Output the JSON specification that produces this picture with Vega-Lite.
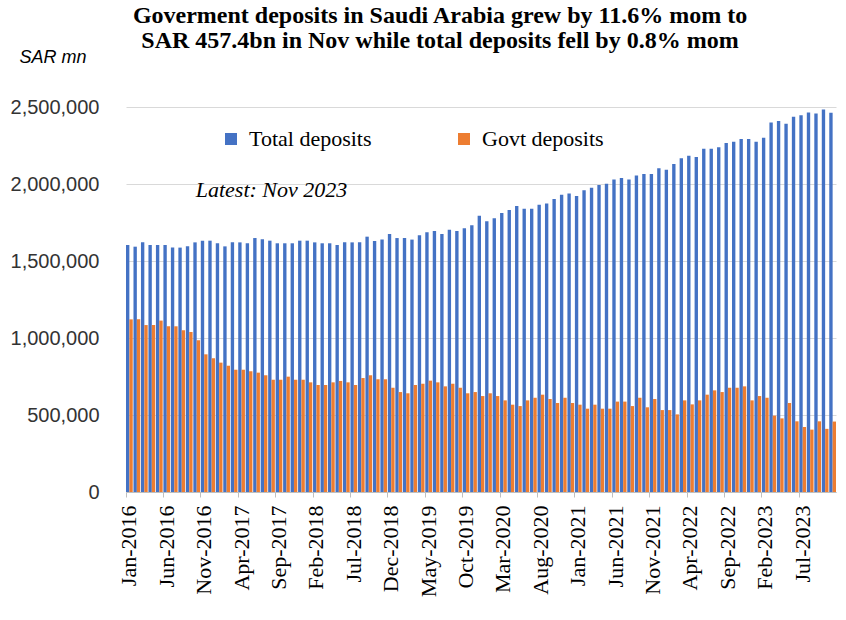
{
  "$schema": "https://vega.github.io/schema/vega-lite/v6.json",
  "width": 710,
  "height": 385,
  "autosize": "none",
  "padding": {"left": 126, "top": 107, "right": 10, "bottom": 128},
  "background": "white",
  "config": {"view": {"stroke": null}},
  "title": {
    "text": ["Goverment deposits in Saudi Arabia grew by 11.6% mom to", "SAR 457.4bn in Nov while total deposits fell by 0.8% mom"],
    "font": "Liberation Serif", "fontSize": 24, "fontWeight": "bold", "color": "#000000",
    "anchor": "middle", "dx": -41, "offset": -5, "lineHeight": 25
  },
  "data": {"values": [
    {"m": "Jan-2016", "Total deposits": 1604000, "Govt deposits": 1121000},
    {"m": "Feb-2016", "Total deposits": 1593000, "Govt deposits": 1121000},
    {"m": "Mar-2016", "Total deposits": 1621000, "Govt deposits": 1084000},
    {"m": "Apr-2016", "Total deposits": 1604000, "Govt deposits": 1084000},
    {"m": "May-2016", "Total deposits": 1604000, "Govt deposits": 1113000},
    {"m": "Jun-2016", "Total deposits": 1604000, "Govt deposits": 1076000},
    {"m": "Jul-2016", "Total deposits": 1587000, "Govt deposits": 1076000},
    {"m": "Aug-2016", "Total deposits": 1587000, "Govt deposits": 1050000},
    {"m": "Sep-2016", "Total deposits": 1595000, "Govt deposits": 1039000},
    {"m": "Oct-2016", "Total deposits": 1621000, "Govt deposits": 985000},
    {"m": "Nov-2016", "Total deposits": 1632000, "Govt deposits": 894000},
    {"m": "Dec-2016", "Total deposits": 1632000, "Govt deposits": 868000},
    {"m": "Jan-2017", "Total deposits": 1615000, "Govt deposits": 840000},
    {"m": "Feb-2017", "Total deposits": 1595000, "Govt deposits": 820000},
    {"m": "Mar-2017", "Total deposits": 1621000, "Govt deposits": 794000},
    {"m": "Apr-2017", "Total deposits": 1621000, "Govt deposits": 794000},
    {"m": "May-2017", "Total deposits": 1615000, "Govt deposits": 784000},
    {"m": "Jun-2017", "Total deposits": 1649000, "Govt deposits": 775000},
    {"m": "Jul-2017", "Total deposits": 1641000, "Govt deposits": 758000},
    {"m": "Aug-2017", "Total deposits": 1632000, "Govt deposits": 729000},
    {"m": "Sep-2017", "Total deposits": 1615000, "Govt deposits": 729000},
    {"m": "Oct-2017", "Total deposits": 1615000, "Govt deposits": 749000},
    {"m": "Nov-2017", "Total deposits": 1615000, "Govt deposits": 729000},
    {"m": "Dec-2017", "Total deposits": 1632000, "Govt deposits": 729000},
    {"m": "Jan-2018", "Total deposits": 1632000, "Govt deposits": 712000},
    {"m": "Feb-2018", "Total deposits": 1621000, "Govt deposits": 695000},
    {"m": "Mar-2018", "Total deposits": 1615000, "Govt deposits": 695000},
    {"m": "Apr-2018", "Total deposits": 1615000, "Govt deposits": 712000},
    {"m": "May-2018", "Total deposits": 1604000, "Govt deposits": 721000},
    {"m": "Jun-2018", "Total deposits": 1621000, "Govt deposits": 712000},
    {"m": "Jul-2018", "Total deposits": 1621000, "Govt deposits": 695000},
    {"m": "Aug-2018", "Total deposits": 1621000, "Govt deposits": 740000},
    {"m": "Sep-2018", "Total deposits": 1658000, "Govt deposits": 758000},
    {"m": "Oct-2018", "Total deposits": 1630000, "Govt deposits": 732000},
    {"m": "Nov-2018", "Total deposits": 1639000, "Govt deposits": 732000},
    {"m": "Dec-2018", "Total deposits": 1675000, "Govt deposits": 677000},
    {"m": "Jan-2019", "Total deposits": 1649000, "Govt deposits": 649000},
    {"m": "Feb-2019", "Total deposits": 1649000, "Govt deposits": 641000},
    {"m": "Mar-2019", "Total deposits": 1639000, "Govt deposits": 695000},
    {"m": "Apr-2019", "Total deposits": 1667000, "Govt deposits": 703000},
    {"m": "May-2019", "Total deposits": 1686000, "Govt deposits": 723000},
    {"m": "Jun-2019", "Total deposits": 1695000, "Govt deposits": 712000},
    {"m": "Jul-2019", "Total deposits": 1675000, "Govt deposits": 686000},
    {"m": "Aug-2019", "Total deposits": 1703000, "Govt deposits": 703000},
    {"m": "Sep-2019", "Total deposits": 1695000, "Govt deposits": 677000},
    {"m": "Oct-2019", "Total deposits": 1712000, "Govt deposits": 641000},
    {"m": "Nov-2019", "Total deposits": 1732000, "Govt deposits": 649000},
    {"m": "Dec-2019", "Total deposits": 1794000, "Govt deposits": 623000},
    {"m": "Jan-2020", "Total deposits": 1758000, "Govt deposits": 641000},
    {"m": "Feb-2020", "Total deposits": 1777000, "Govt deposits": 623000},
    {"m": "Mar-2020", "Total deposits": 1812000, "Govt deposits": 595000},
    {"m": "Apr-2020", "Total deposits": 1831000, "Govt deposits": 567000},
    {"m": "May-2020", "Total deposits": 1857000, "Govt deposits": 558000},
    {"m": "Jun-2020", "Total deposits": 1840000, "Govt deposits": 595000},
    {"m": "Jul-2020", "Total deposits": 1840000, "Govt deposits": 612000},
    {"m": "Aug-2020", "Total deposits": 1866000, "Govt deposits": 632000},
    {"m": "Sep-2020", "Total deposits": 1874000, "Govt deposits": 604000},
    {"m": "Oct-2020", "Total deposits": 1903000, "Govt deposits": 578000},
    {"m": "Nov-2020", "Total deposits": 1931000, "Govt deposits": 612000},
    {"m": "Dec-2020", "Total deposits": 1939000, "Govt deposits": 578000},
    {"m": "Jan-2021", "Total deposits": 1922000, "Govt deposits": 567000},
    {"m": "Feb-2021", "Total deposits": 1959000, "Govt deposits": 541000},
    {"m": "Mar-2021", "Total deposits": 1976000, "Govt deposits": 567000},
    {"m": "Apr-2021", "Total deposits": 1994000, "Govt deposits": 541000},
    {"m": "May-2021", "Total deposits": 2002000, "Govt deposits": 541000},
    {"m": "Jun-2021", "Total deposits": 2030000, "Govt deposits": 587000},
    {"m": "Jul-2021", "Total deposits": 2039000, "Govt deposits": 587000},
    {"m": "Aug-2021", "Total deposits": 2030000, "Govt deposits": 558000},
    {"m": "Sep-2021", "Total deposits": 2056000, "Govt deposits": 612000},
    {"m": "Oct-2021", "Total deposits": 2065000, "Govt deposits": 550000},
    {"m": "Nov-2021", "Total deposits": 2065000, "Govt deposits": 604000},
    {"m": "Dec-2021", "Total deposits": 2102000, "Govt deposits": 532000},
    {"m": "Jan-2022", "Total deposits": 2093000, "Govt deposits": 532000},
    {"m": "Feb-2022", "Total deposits": 2130000, "Govt deposits": 504000},
    {"m": "Mar-2022", "Total deposits": 2167000, "Govt deposits": 595000},
    {"m": "Apr-2022", "Total deposits": 2184000, "Govt deposits": 569000},
    {"m": "May-2022", "Total deposits": 2175000, "Govt deposits": 595000},
    {"m": "Jun-2022", "Total deposits": 2229000, "Govt deposits": 632000},
    {"m": "Jul-2022", "Total deposits": 2229000, "Govt deposits": 660000},
    {"m": "Aug-2022", "Total deposits": 2238000, "Govt deposits": 649000},
    {"m": "Sep-2022", "Total deposits": 2266000, "Govt deposits": 677000},
    {"m": "Oct-2022", "Total deposits": 2275000, "Govt deposits": 677000},
    {"m": "Nov-2022", "Total deposits": 2292000, "Govt deposits": 686000},
    {"m": "Dec-2022", "Total deposits": 2292000, "Govt deposits": 595000},
    {"m": "Jan-2023", "Total deposits": 2275000, "Govt deposits": 623000},
    {"m": "Feb-2023", "Total deposits": 2301000, "Govt deposits": 612000},
    {"m": "Mar-2023", "Total deposits": 2400000, "Govt deposits": 496000},
    {"m": "Apr-2023", "Total deposits": 2409000, "Govt deposits": 478000},
    {"m": "May-2023", "Total deposits": 2392000, "Govt deposits": 578000},
    {"m": "Jun-2023", "Total deposits": 2437000, "Govt deposits": 459000},
    {"m": "Jul-2023", "Total deposits": 2446000, "Govt deposits": 422000},
    {"m": "Aug-2023", "Total deposits": 2465000, "Govt deposits": 405000},
    {"m": "Sep-2023", "Total deposits": 2457000, "Govt deposits": 459000},
    {"m": "Oct-2023", "Total deposits": 2483000, "Govt deposits": 410000},
    {"m": "Nov-2023", "Total deposits": 2463000, "Govt deposits": 457400}
  ]},
  "transform": [{"fold": ["Total deposits", "Govt deposits"], "as": ["series", "value"]}],
  "layer": [
    {
      "mark": {"type": "bar"},
      "encoding": {
        "x": {
          "field": "m", "type": "nominal", "sort": null,
          "scale": {"paddingInner": 0.1, "paddingOuter": 0},
          "axis": {
            "values": ["Jan-2016", "Jun-2016", "Nov-2016", "Apr-2017", "Sep-2017", "Feb-2018", "Jul-2018", "Dec-2018", "May-2019", "Oct-2019", "Mar-2020", "Aug-2020", "Jan-2021", "Jun-2021", "Nov-2021", "Apr-2022", "Sep-2022", "Feb-2023", "Jul-2023"],
            "title": null, "grid": false,
            "labelAngle": -90, "labelAlign": "right", "labelBaseline": "middle",
            "labelFont": "Liberation Serif", "labelFontSize": 22, "labelColor": "#000000",
            "labelPadding": 8, "tickSize": 5, "tickColor": "#bfbfbf", "domainColor": "#bfbfbf",
            "bandPosition": 0
          }
        },
        "xOffset": {"field": "series", "type": "nominal", "sort": ["Total deposits", "Govt deposits"], "scale": {"paddingInner": 0, "paddingOuter": 0}},
        "y": {
          "field": "value", "type": "quantitative",
          "scale": {"domain": [0, 2500000], "nice": false},
          "axis": {
            "values": [0, 500000, 1000000, 1500000, 2000000, 2500000], "format": ",d",
            "labelFont": "Liberation Sans", "labelFontSize": 20, "labelColor": "#333333",
            "labelPadding": 27, "ticks": false, "domain": false, "gridColor": "#d9d9d9",
            "title": "SAR mn", "titleAngle": 0, "titleAlign": "left", "titleBaseline": "middle",
            "titleX": -107, "titleY": -50, "titleFont": "Liberation Sans", "titleFontStyle": "italic",
            "titleFontWeight": "normal", "titleFontSize": 18, "titleColor": "#000000"
          }
        },
        "color": {
          "field": "series", "type": "nominal",
          "scale": {"domain": ["Total deposits", "Govt deposits"], "range": ["#4472C4", "#ED7D31"]},
          "legend": {
            "orient": "none", "legendX": 94, "legendY": 21, "direction": "horizontal", "title": null,
            "symbolType": "square", "symbolSize": 144, "symbolStrokeWidth": 0,
            "labelFont": "Liberation Serif", "labelFontSize": 22, "labelColor": "#000000",
            "columnPadding": 81, "labelOffset": 7, "padding": 0
          }
        }
      }
    },
    {
      "transform": [{"filter": "datum.m == 'Aug-2017' && datum.series == 'Total deposits'"}],
      "mark": {"type": "text", "font": "Liberation Serif", "fontStyle": "italic", "fontSize": 22, "align": "center", "baseline": "middle", "color": "#000000"},
      "encoding": {
        "x": {"field": "m", "type": "nominal", "sort": null},
        "y": {"datum": 1961000},
        "text": {"value": "Latest: Nov 2023"}
      }
    }
  ]
}
